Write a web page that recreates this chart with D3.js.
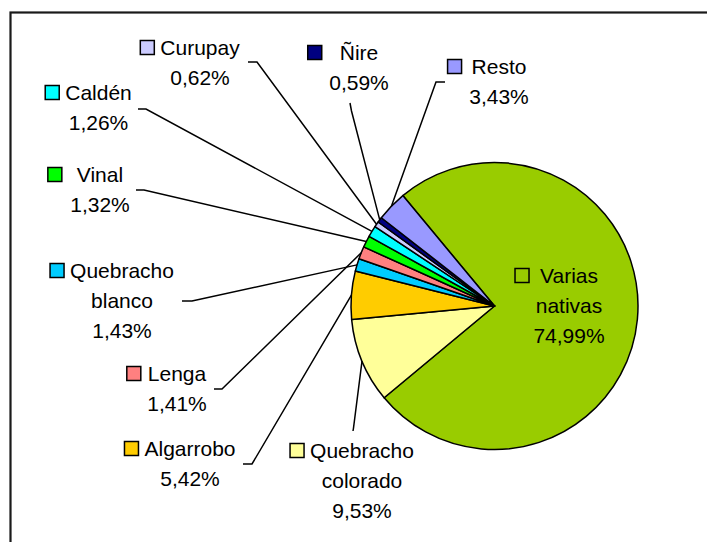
<!DOCTYPE html>
<html>
<head>
<meta charset="utf-8">
<script src="https://cdn.jsdelivr.net/npm/d3@7"></script>
<style>
  body { margin: 0; background: #fff; }
  text { font-family: "Liberation Sans", Arial, sans-serif; font-size: 21px; fill: #000; }
</style>
</head>
<body>
<div id="chart"></div>
<script>
// data
var names = ["Varias nativas", "Quebracho colorado", "Algarrobo", "Quebracho blanco", "Lenga",
             "Vinal", "Caldén", "Curupay", "Ñire", "Resto"];
var values = [74.99, 9.53, 5.42, 1.43, 1.41, 1.32, 1.26, 0.62, 0.59, 3.43];
var colors = ["#99CC00", "#FFFF99", "#FFCC00", "#00CCFF", "#FF8080",
              "#00FF00", "#00FFFF", "#CCCCFF", "#000080", "#9999FF"];
// how each name is broken over lines in the labels
var nameLines = [["Varias", "nativas"], ["Quebracho", "colorado"], ["Algarrobo"], ["Quebracho", "blanco"],
                 ["Lenga"], ["Vinal"], ["Caldén"], ["Curupay"], ["Ñire"], ["Resto"]];

// label layout: text centre x, first line centre y, gap box->text, leader start + elbow
var labelLayout = [
  {cx: 569, y: 275, gap: 11, lead: null},
  {cx: 362, y: 450, gap: 6,  lead: [[353, 431], [353.5, 428]]},
  {cx: 190, y: 448, gap: 6,  lead: [[243, 464], [252, 464]]},
  {cx: 122, y: 270, gap: 6,  lead: [[182, 301], [192, 301]]},
  {cx: 177, y: 373, gap: 7,  lead: [[214, 389], [222, 389]]},
  {cx: 100, y: 174, gap: 15, lead: [[136, 190], [144, 190]]},
  {cx: 98.5, y: 92, gap: 6,  lead: [[138, 109], [146, 109]]},
  {cx: 200, y: 47, gap: 6,   lead: [[248, 62], [257, 62]]},
  {cx: 359, y: 52, gap: 18,  lead: [[350, 103], [351.5, 111]]},
  {cx: 499, y: 66, gap: 10,  lead: [[445, 82], [436, 82]]}
];

var width = 707, height = 542;
var cx = 494.5, cy = 306, radius = 143.5;
var lineH = 30;
var startDeg = -39.7;

var svg = d3.select("#chart")
    .append("svg")
    .attr("width", width)
    .attr("height", height);

// chart frame (runs off the right and bottom of the picture)
svg.append("rect")
    .attr("x", 10.5).attr("y", 12.5)
    .attr("width", 720).attr("height", 560)
    .attr("fill", "#fff")
    .attr("stroke", "#1a1a1a")
    .attr("stroke-width", 2.2);

var a0 = startDeg * Math.PI / 180;
var pie = d3.pie().sort(null).value(function(d) { return d; })
    .startAngle(a0).endAngle(a0 + 2 * Math.PI);
var arcs = pie(values);

var arc = d3.arc().innerRadius(0).outerRadius(radius);

var g = svg.append("g").attr("transform", "translate(" + cx + "," + cy + ")");

g.selectAll("path.slice")
    .data(arcs)
    .enter()
    .append("path")
    .attr("class", "slice")
    .attr("d", arc)
    .attr("fill", function(d, i) { return colors[i]; })
    .attr("stroke", "#000")
    .attr("stroke-width", 1.5)
    .attr("stroke-linejoin", "round");

// leader lines
var line = d3.line();
arcs.forEach(function(d, i) {
  var L = labelLayout[i];
  if (!L.lead) return;
  var mid = (d.startAngle + d.endAngle) / 2;
  var end = [cx + radius * Math.sin(mid), cy - radius * Math.cos(mid)];
  svg.append("path")
      .attr("d", line([L.lead[0], L.lead[1], end]))
      .attr("fill", "none")
      .attr("stroke", "#000")
      .attr("stroke-width", 1.5);
});

// labels
var fmt = d3.format(".2f");
arcs.forEach(function(d, i) {
  var L = labelLayout[i];
  var lines = nameLines[i].concat([fmt(values[i]).replace(".", ",") + "%"]);
  var lg = svg.append("g");
  var first = null;
  lines.forEach(function(t, k) {
    var tx = lg.append("text")
        .attr("x", L.cx)
        .attr("y", L.y + k * lineH + 7.5)
        .attr("text-anchor", "middle")
        .text(t);
    if (k === 0) first = tx;
  });
  var w = first.node().getComputedTextLength();
  var bx = L.cx - w / 2 - L.gap - 14;
  lg.append("rect")
      .attr("x", bx).attr("y", L.y - 6.5)
      .attr("width", 14).attr("height", 14)
      .attr("fill", colors[i])
      .attr("stroke", "#000")
      .attr("stroke-width", 1.5);
});
</script>
</body>
</html>
